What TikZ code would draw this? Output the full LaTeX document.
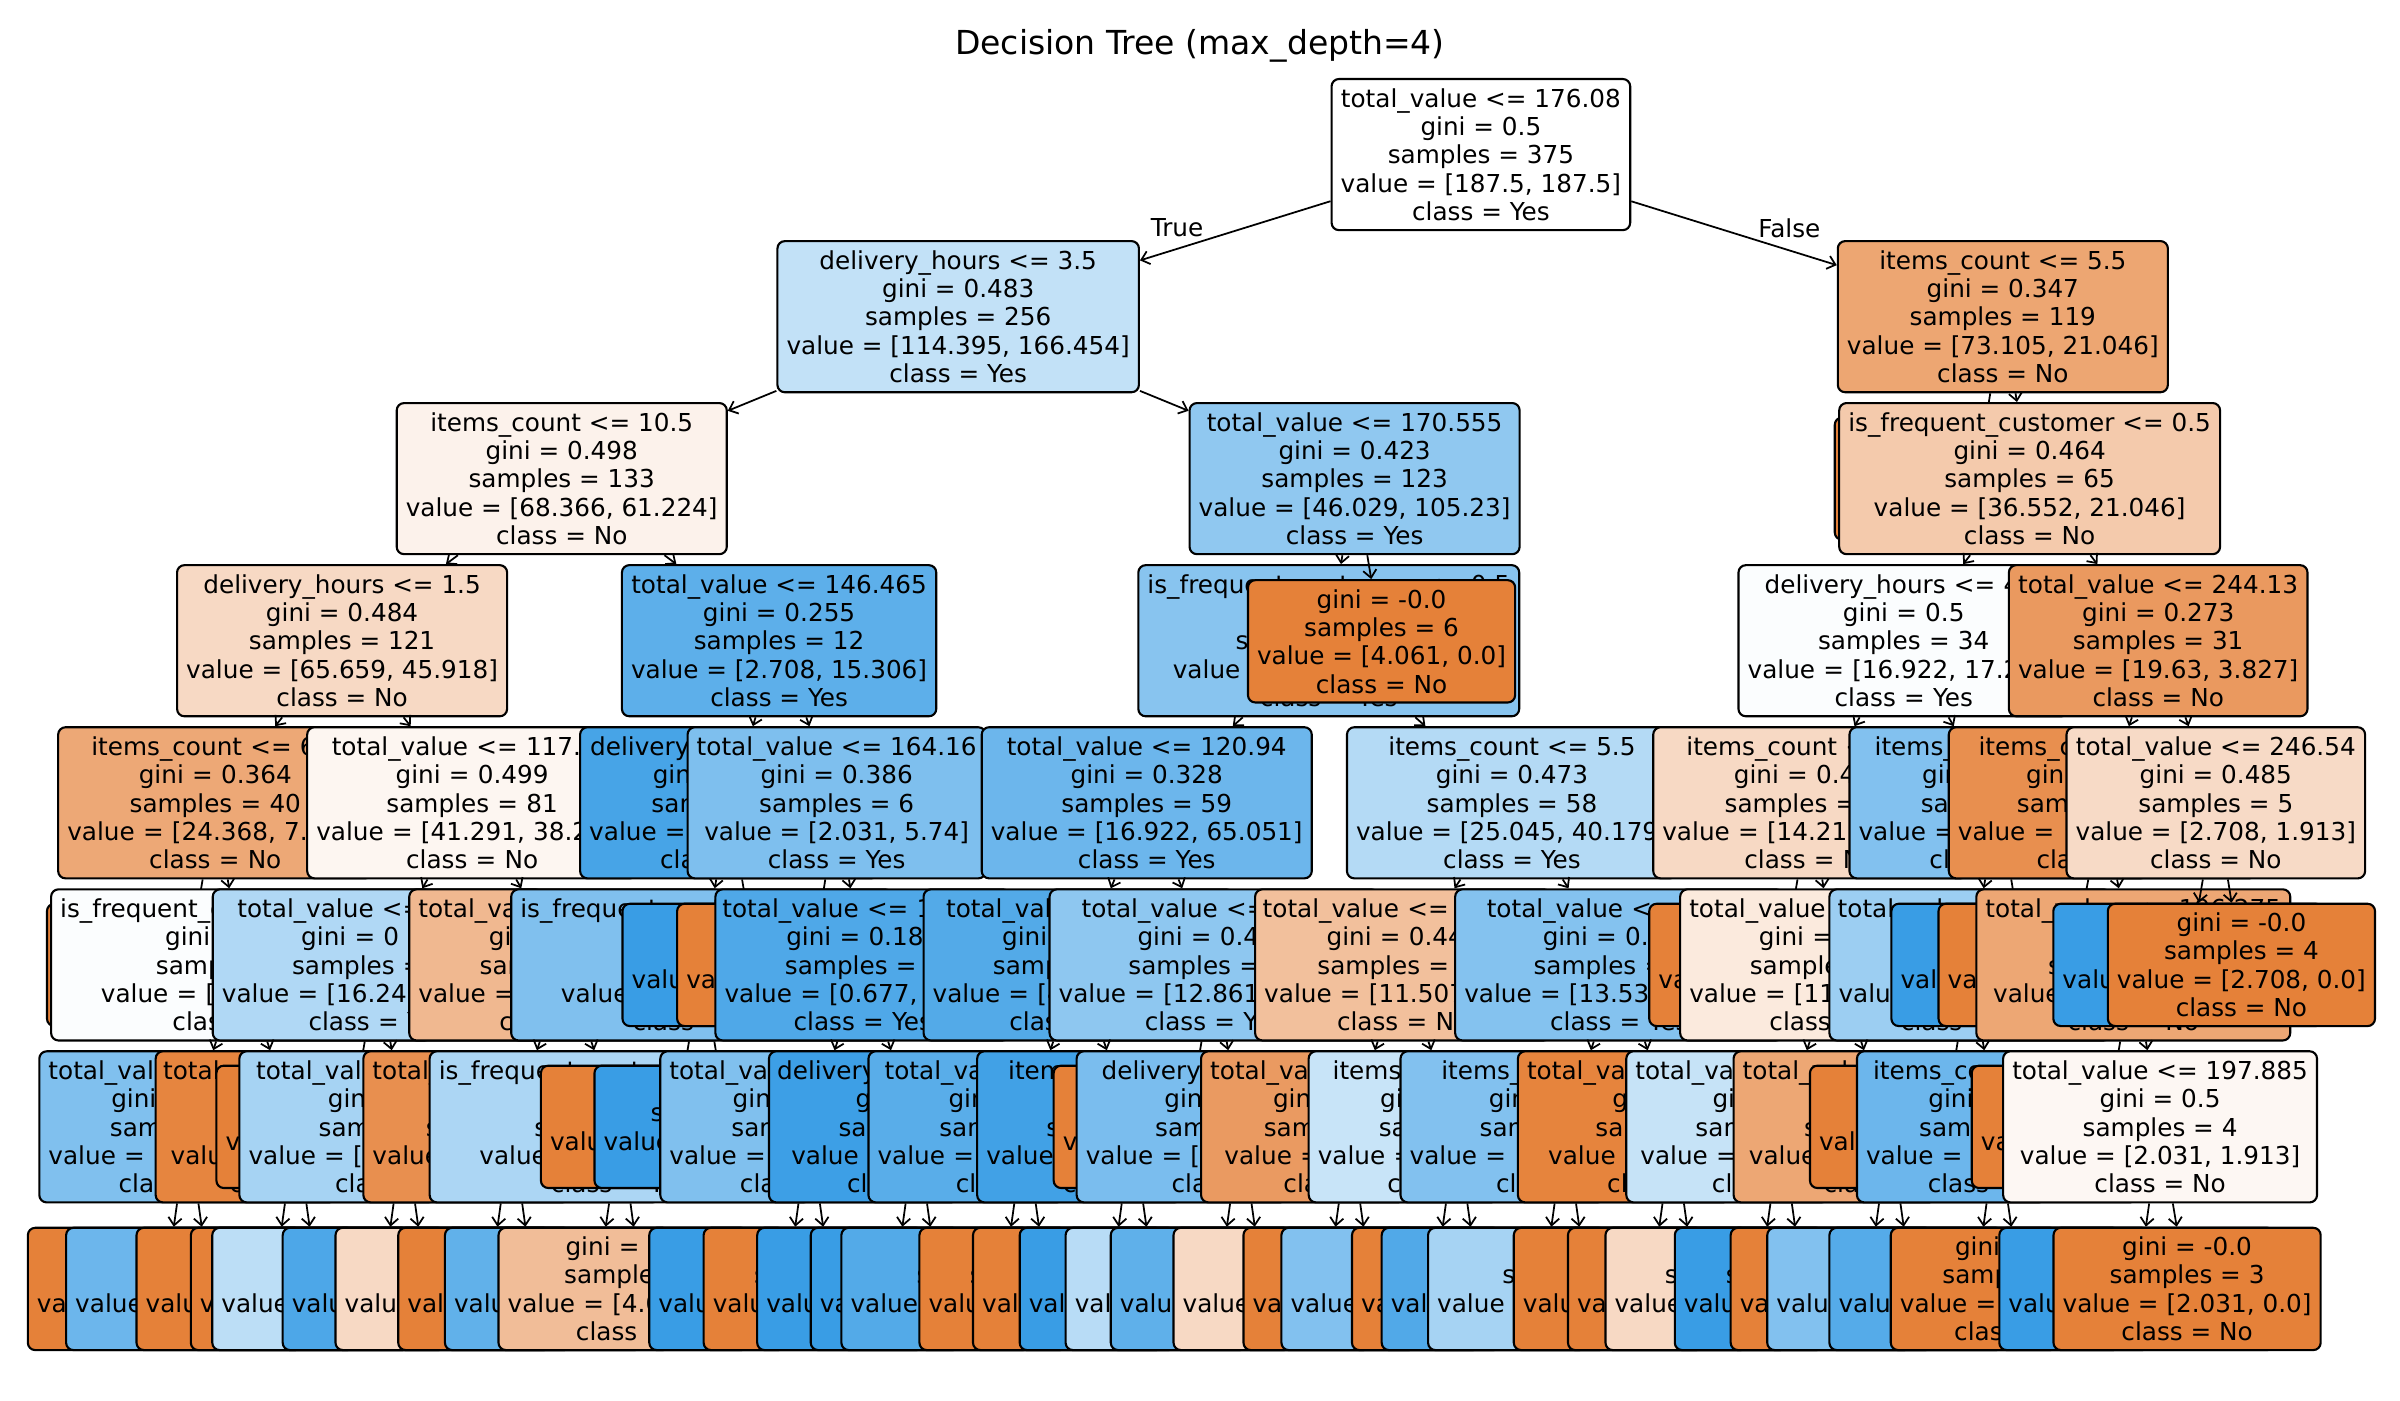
\documentclass[tikz,border=0pt]{standalone}
\usepackage{fontspec}
\setmainfont{DejaVu Sans}
\usetikzlibrary{arrows.meta}
\definecolor{cno}{RGB}{229,129,57}
\definecolor{cyes}{RGB}{57,157,229}
\newcommand{\hid}[1]{\phantom{#1}}
\newcommand{\lft}[1]{\makebox[\linewidth][l]{#1}}
\newcommand{\cl}[1]{\makebox[\linewidth]{#1}}
\newcommand{\lno}{gini = \hid{0.0}\\samples = \hid{3}\\\lft{value = [}\\class = No}
\newcommand{\lyes}{gini = \hid{0.0}\\samples = \hid{3}\\\lft{value = [}\\class = Yes}
\newcommand{\lmix}[2]{gini = \hid{0.0}\\samples = \hid{#1}\\\lft{value = [}\\class = #2}
\tikzset{
  tn/.style={draw=black, line width=0.6pt, rounded corners=2.1pt, align=center,
    inner xsep=2.6pt, inner ysep=0.5pt, minimum height=43pt,
    font=\fontsize{7.03}{8.06}\selectfont},
  lf/.style={tn, minimum height=34.8pt},
  tw/.code={\pgfmathsetlengthmacro\twlen{(#1-12)*0.4355pt}%
    \edef\twset{\noexpand\tikzset{text width=\twlen}}\twset},
  arr/.style={-{Straight Barb[length=2.2pt,width=3.8pt]}, line width=0.5pt},
  lbl/.style={font=\fontsize{7.03}{8.06}\selectfont, inner sep=0pt},
}
\begin{document}
\begin{tikzpicture}[x=0.4355pt, y=-0.4355pt]
\useasboundingbox (0,0) rectangle (1568,914.67);
\node[font=\fontsize{9.4}{11}\selectfont] (ttl) at (784,30) {Decision Tree (max\_depth=4)};
% depth 0-1
\node[tn, fill=white] (n0) at (967.5,101) {total\_value <= 176.08\\gini = 0.5\\samples = 375\\value = [187.5, 187.5]\\class = Yes};
\node[tn, fill=cyes!31] (n1a) at (626,206.9) {delivery\_hours <= 3.5\\gini = 0.483\\samples = 256\\value = [114.395, 166.454]\\class = Yes};
\draw[arr] (n0) -- (n1a);
\node[tn, fill=cno!71] (n1b) at (1308.5,206.9) {items\_count <= 5.5\\gini = 0.347\\samples = 119\\value = [73.105, 21.046]\\class = No};
\draw[arr] (n0) -- (n1b);
\node[lbl] (lbt) at (769,149) {True};
\node[lbl] (lbf) at (1169,149) {False};
% depth 2
\node[tn, fill=cno!10] (n2a) at (367,312.7) {items\_count <= 10.5\\gini = 0.498\\samples = 133\\value = [68.366, 61.224]\\class = No};
\draw[arr] (n1a) -- (n2a);
\node[tn, fill=cyes!56] (n2b) at (885,312.7) {total\_value <= 170.555\\gini = 0.423\\samples = 123\\value = [46.029, 105.23]\\class = Yes};
\draw[arr] (n1a) -- (n2b);
\node[lf, tw=185, fill=cno, anchor=west] (n2c) at (1198,312.7) {\lno};
\draw[arr] (n1b) -- (n2c);
\node[tn, fill=cno!42] (n2d) at (1326,312.7) {is\_frequent\_customer <= 0.5\\gini = 0.464\\samples = 65\\value = [36.552, 21.046]\\class = No};
\draw[arr] (n1b) -- (n2d);
% depth 3
\node[tn, fill=cno!30] (n3a) at (223.5,418.6) {delivery\_hours <= 1.5\\gini = 0.484\\samples = 121\\value = [65.659, 45.918]\\class = No};
\draw[arr] (n2a) -- (n3a);
\node[tn, fill=cyes!82] (n3b) at (509,418.6) {total\_value <= 146.465\\gini = 0.255\\samples = 12\\value = [2.708, 15.306]\\class = Yes};
\draw[arr] (n2a) -- (n3b);
\node[tn, fill=cyes!60, anchor=west] (n3c) at (743,418.6) {is\_frequent\_customer <= 0.5\\gini = \hid{0.417}\\samples = \hid{117}\\value = \hid{[41.968, 105.23]}\\class = Yes};
\draw[arr] (n2b) -- (n3c);
\node[lf, fill=cno] (n3d) at (902.6,419) {gini = -0.0\\samples = 6\\value = [4.061, 0.0]\\class = No};
\draw[arr] (n2b) -- (n3d);
\node[tn, tw=216, fill=cyes!2, anchor=west] (n3e) at (1135.1,418.6) {\cl{delivery\_hours <= 4\hid{.5}}\\gini = 0.5\\samples = 34\\\lft{value = [16.922, 17.2}\\class = Yes};
\draw[arr] (n2d) -- (n3e);
\node[tn, fill=cno!81] (n3f) at (1410,418.6) {total\_value <= 244.13\\gini = 0.273\\samples = 31\\value = [19.63, 3.827]\\class = No};
\draw[arr] (n2d) -- (n3f);
% depth 4
\node[tn, tw=205.4, fill=cno!69, anchor=west] (n4a) at (37.3,524.5) {\cl{items\_count <= 6\hid{.5}}\\gini = 0.364\\samples = 40\\\lft{value = [24.368, 7.}\\class = No};
\draw[arr] (n3a) -- (n4a);
\node[tn, tw=215.6, fill=cno!7, anchor=west] (n4b) at (200,524.5) {\cl{total\_value <= 117.\hid{35}}\\gini = 0.499\\samples = 81\\\lft{value = [41.291, 38.2}\\class = No};
\draw[arr] (n3a) -- (n4b);
\node[tn, tw=195, fill=cyes!93, anchor=west] (n4c) at (378.3,524.5) {\cl{delivery\_hours <= \hid{2.5}}\\gini = \hid{0.124}\\samples = \hid{8}\\\lft{value =}\\class = Yes};
\draw[arr] (n3b) -- (n4c);
\node[tn, fill=cyes!65] (n4d) at (546.6,524.5) {total\_value <= 164.16\\gini = 0.386\\samples = 6\\value = [2.031, 5.74]\\class = Yes};
\draw[arr] (n3b) -- (n4d);
\node[tn, fill=cyes!74] (n4e) at (749.2,524.5) {total\_value <= 120.94\\gini = 0.328\\samples = 59\\value = [16.922, 65.051]\\class = Yes};
\draw[arr] (n3c) -- (n4e);
\node[tn, fill=cyes!38, anchor=west] (n4f) at (879.3,524.5) {items\_count <= 5.5\\gini = 0.473\\samples = 58\\value = [25.045, 40.179]\\class = Yes};
\draw[arr] (n3c) -- (n4f);
\node[tn, tw=205.4, fill=cno!30, anchor=west] (n4g) at (1079.4,524.5) {\cl{items\_count <= \hid{3.5}}\\gini = 0.4\hid{45}\\samples = \hid{29}\\\lft{value = [14.21}\\class = No};
\draw[arr] (n3e) -- (n4g);
\node[tn, tw=195, fill=cyes!63, anchor=west] (n4h) at (1207.6,524.5) {\cl{items\_count <= \hid{2.5}}\\gini = \hid{0.386}\\samples = \hid{5}\\\lft{value =}\\class = Yes};
\draw[arr] (n3e) -- (n4h);
\node[tn, tw=201, fill=cno!89, anchor=west] (n4i) at (1272.5,524.5) {\cl{items\_count <= \hid{6.5}}\\gini = \hid{0.184}\\samples = \hid{26}\\\lft{value =}\\class = No};
\draw[arr] (n3f) -- (n4i);
\node[tn, fill=cno!29, anchor=west] (n4j) at (1349.4,524.5) {total\_value <= 246.54\\gini = 0.485\\samples = 5\\value = [2.708, 1.913]\\class = No};
\draw[arr] (n3f) -- (n4j);
% depth 5
\node[lf, tw=185, fill=cno, anchor=west] (n5a) at (30,630.4) {\lno};
\draw[arr] (n4a) -- (n5a);
\node[tn, tw=249, fill=cyes!2, anchor=west] (n5b) at (32.7,630.4) {\lft{is\_frequent\_customer <= \hid{0.5}}\\gini = \hid{0.497}\\samples = \hid{14}\\value = [\hid{6.769, 7.653]}\\class = Yes};
\draw[arr] (n4a) -- (n5b);
\node[tn, tw=215.6, fill=cyes!40, anchor=west] (n5c) at (138.3,630.4) {\cl{total\_value <= \hid{133.75}}\\gini = 0\hid{.478}\\samples = \hid{41}\\\lft{value = [16.24}\\class = Yes};
\draw[arr] (n4b) -- (n5c);
\node[tn, tw=204, fill=cno!56, anchor=west] (n5d) at (266.7,630.4) {\lft{total\_value <= \hid{128.325}}\\gini = \hid{0.446}\\samples = \hid{40}\\\lft{value =}\\class = No};
\draw[arr] (n4b) -- (n5d);
\node[tn, tw=249, fill=cyes!64, anchor=west] (n5e) at (333.3,630.4) {\lft{is\_frequent\_customer <= \hid{0.5}}\\gini = \hid{0.386}\\samples = \hid{4}\\value = \hid{[0.677, 1.913]}\\class = Yes};
\draw[arr] (n4c) -- (n5e);
\node[lf, tw=175, fill=cyes, anchor=west] (n5f) at (406,630.4) {\lyes};
\draw[arr] (n4c) -- (n5f);
\node[lf, tw=177, fill=cno, anchor=west] (n5g) at (441.7,630.4) {\lno};
\draw[arr] (n4d) -- (n5g);
\node[tn, tw=192.6, fill=cyes!89, anchor=west] (n5h) at (466.7,630.4) {\cl{total\_value <= 1\hid{55.82}}\\gini = 0.18\hid{9}\\samples = \hid{4}\\\lft{value = [0.677,}\\class = Yes};
\draw[arr] (n4d) -- (n5h);
\node[tn, tw=202.6, fill=cyes!87, anchor=west] (n5i) at (602.7,630.4) {\cl{total\_value <= \hid{139.4}}\\gini = \hid{0.256}\\samples = \hid{16}\\\lft{value = [4}\\class = Yes};
\draw[arr] (n4e) -- (n5i);
\node[tn, tw=215, fill=cyes!57, anchor=west] (n5j) at (685,630.4) {\cl{total\_value <= \hid{163.8}}\\gini = 0.4\hid{46}\\samples = \hid{43}\\\lft{value = [12.861}\\class = Yes};
\draw[arr] (n4e) -- (n5j);
\node[tn, tw=193.4, fill=cno!50, anchor=west] (n5k) at (819.3,630.4) {\cl{total\_value <= \hid{160.35}}\\gini = 0.44\hid{9}\\samples = \hid{19}\\\lft{value = [11.507}\\class = No};
\draw[arr] (n4f) -- (n5k);
\node[tn, tw=214.5, fill=cyes!62, anchor=west] (n5l) at (950,630.4) {\cl{total\_value <= \hid{139.8}}\\gini = 0.\hid{412}\\samples = \hid{39}\\\lft{value = [13.53}\\class = Yes};
\draw[arr] (n4f) -- (n5l);
\node[lf, tw=175, fill=cno, anchor=west] (n5m) at (1076.8,630.4) {\lno};
\draw[arr] (n4g) -- (n5m);
\node[tn, tw=203, fill=cno!17, anchor=west] (n5n) at (1097,630.4) {\lft{total\_value <= \hid{147.885}}\\gini = \hid{0.496}\\samples = \hid{26}\\\lft{value = [11}\\class = No};
\draw[arr] (n4g) -- (n5n);
\node[tn, tw=184, fill=cyes!50, anchor=west] (n5o) at (1194.5,630.4) {\cl{total\_value <= \hid{140.5}}\\gini = \hid{0.39}\\samples = \hid{6}\\\lft{value =}\\class = Yes};
\draw[arr] (n4h) -- (n5o);
\node[lf, tw=175, fill=cyes, anchor=west] (n5p) at (1235,630.4) {\lyes};
\draw[arr] (n4h) -- (n5p);
\node[lf, tw=175, fill=cno, anchor=west] (n5q) at (1265.8,630.4) {\lno};
\draw[arr] (n4i) -- (n5q);
\node[tn, fill=cno!70, anchor=west] (n5r) at (1290.5,630.4) {total\_value <= 196.275\\gini = \hid{0.42}\\samples = \hid{10}\\value = \hid{[8.799, 1.913]}\\class = No};
\draw[arr] (n4i) -- (n5r);
\node[lf, tw=176.5, fill=cyes, anchor=west] (n5s) at (1340.8,630.4) {\lyes};
\draw[arr] (n4j) -- (n5s);
\node[lf, fill=cno, anchor=west] (n5t) at (1376.4,630.4) {gini = -0.0\\samples = 4\\value = [2.708, 0.0]\\class = No};
\draw[arr] (n4j) -- (n5t);
% depth 6
\node[tn, tw=194, fill=cyes!64, anchor=west] (n6a) at (25,736.2) {\lft{total\_value <= \hid{118.55}}\\gini = \hid{0.478}\\samples = \hid{9}\\\lft{value = [}\\class = Yes};
\draw[arr] (n5b) -- (n6a);
\node[tn, tw=183, fill=cno!97, anchor=west] (n6b) at (101,736.2) {\cl{total\_value <= \hid{112.8}}\\gini = \hid{0.0}\\samples = \hid{3}\\value = \hid{[3.385, 0.0]}\\class = No};
\draw[arr] (n5b) -- (n6b);
\node[lf, tw=175, fill=cno, anchor=west] (n6c) at (140.7,736.2) {\lno};
\draw[arr] (n5c) -- (n6c);
\node[tn, tw=215.6, fill=cyes!45, anchor=west] (n6d) at (155.7,736.2) {\cl{total\_value <= \hid{125.925}}\\gini = \hid{0.446}\\samples = \hid{32}\\\lft{value = [}\\class = Yes};
\draw[arr] (n5c) -- (n6d);
\node[tn, tw=193.6, fill=cno!89, anchor=west] (n6e) at (236.7,736.2) {\lft{total\_value <= \hid{123.45}}\\gini = \hid{0.18}\\samples = \hid{28}\\\lft{value =}\\class = No};
\draw[arr] (n5d) -- (n6e);
\node[tn, tw=249, fill=cyes!42, anchor=west] (n6f) at (280,736.2) {\lft{is\_frequent\_customer <= \hid{0.5}}\\gini = \hid{0.5}\\samples = \hid{12}\\value = \hid{[1.354, 9.566]}\\class = Yes};
\draw[arr] (n5d) -- (n6f);
\node[lf, tw=175, fill=cno, anchor=west] (n6g) at (352.7,736.2) {\lno};
\draw[arr] (n5e) -- (n6g);
\node[lf, tw=175, fill=cyes, anchor=west] (n6h) at (387.7,736.2) {\lyes};
\draw[arr] (n5e) -- (n6h);
\node[tn, tw=194.6, fill=cyes!64, anchor=west] (n6i) at (430.7,736.2) {\lft{total\_value <= \hid{140.48}}\\gini = \hid{0.361}\\samples = \hid{7}\\\lft{value =}\\class = Yes};
\draw[arr] (n5h) -- (n6i);
\node[tn, tw=192.6, fill=cyes!98, anchor=west] (n6j) at (501.7,736.2) {\cl{delivery\_hours <= \hid{2.5}}\\gini = \hid{0.0}\\samples = \hid{3}\\value = \hid{[0.0, 1.913]}\\class = Yes};
\draw[arr] (n5h) -- (n6j);
\node[tn, tw=204.6, fill=cyes!84, anchor=west] (n6k) at (566.7,736.2) {\cl{total\_value <= \hid{137.82}}\\gini = \hid{0.307}\\samples = \hid{10}\\\lft{value =}\\class = Yes};
\draw[arr] (n5i) -- (n6k);
\node[tn, tw=202.6, fill=cyes!96, anchor=west] (n6l) at (637.7,736.2) {\cl{items\_count <= \hid{4.5}}\\gini = \hid{0.1}\\samples = \hid{16}\\\lft{value}\\class = Yes};
\draw[arr] (n5i) -- (n6l);
\node[lf, tw=175, fill=cno, anchor=west] (n6m) at (687.7,736.2) {\lno};
\draw[arr] (n5j) -- (n6m);
\node[tn, tw=214.6, fill=cyes!67, anchor=west] (n6n) at (702.7,736.2) {\cl{delivery\_hours <= \hid{2.5}}\\gini = \hid{0.421}\\samples = \hid{40}\\\lft{value = [}\\class = Yes};
\draw[arr] (n5j) -- (n6n);
\node[tn, tw=194, fill=cno!80, anchor=west] (n6o) at (784,736.2) {\lft{total\_value <= \hid{158.97}}\\gini = \hid{0.321}\\samples = \hid{17}\\value = \hid{[8.123, 0.0]}\\class = No};
\draw[arr] (n5k) -- (n6o);
\node[tn, tw=193.4, fill=cyes!28, anchor=west] (n6p) at (854.3,736.2) {\cl{items\_count <= \hid{4.5}}\\gini = \hid{0.488}\\samples = \hid{8}\\\lft{value =}\\class = Yes};
\draw[arr] (n5k) -- (n6p);
\node[tn, tw=215.4, fill=cyes!63, anchor=west] (n6q) at (914.3,736.2) {\cl{items\_count <= \hid{3.5}}\\gini = \hid{0.381}\\samples = \hid{24}\\\lft{value =}\\class = Yes};
\draw[arr] (n5l) -- (n6q);
\node[tn, tw=203, fill=cno!98, anchor=west] (n6r) at (991,736.2) {\lft{total\_value <= \hid{136.325}}\\gini = \hid{0.0}\\samples = \hid{4}\\value = \hid{[2.708, 0.0]}\\class = No};
\draw[arr] (n5l) -- (n6r);
\node[tn, tw=202.4, fill=cyes!29, anchor=west] (n6s) at (1061.8,736.2) {\lft{total\_value <= \hid{147.355}}\\gini = \hid{0.49}\\samples = \hid{20}\\value = \hid{[8.798, 7.653]}\\class = Yes};
\draw[arr] (n5n) -- (n6s);
\node[tn, tw=204, fill=cno!70, anchor=west] (n6t) at (1131.9,736.2) {\lft{total\_value <= \hid{156.385}}\\gini = \hid{0.3}\\samples = \hid{10}\\value = \hid{[2.708, 1.913]}\\class = No};
\draw[arr] (n5n) -- (n6t);
\node[lf, tw=175, fill=cno, anchor=west] (n6u) at (1181.8,736.2) {\lno};
\draw[arr] (n5o) -- (n6u);
\node[tn, tw=183, fill=cyes!74, anchor=west] (n6v) at (1212.5,736.2) {\cl{items\_count <= \hid{3.5}}\\gini = \hid{0.37}\\samples = \hid{5}\\\lft{value =}\\class = Yes};
\draw[arr] (n5o) -- (n6v);
\node[lf, tw=175, fill=cno, anchor=west] (n6w) at (1287.5,736.2) {\lno};
\draw[arr] (n5r) -- (n6w);
\node[tn, fill=cno!6, anchor=west] (n6x) at (1308,736.2) {total\_value <= 197.885\\gini = 0.5\\samples = 4\\value = [2.031, 1.913]\\class = No};
\draw[arr] (n5r) -- (n6x);
% depth 7 (leaves)
\node[lf, tw=179.4, fill=cno, anchor=west] (k1) at (17.5,842.1) {\lno};
\draw[arr] (n6a) -- (k1);
\node[lf, tw=188.6, fill=cyes!74, anchor=west] (k2) at (42.5,842.1) {\lmix{}{Yes}};
\draw[arr] (n6a) -- (k2);
\node[lf, tw=178.4, fill=cno, anchor=west] (k3) at (88.5,842.1) {\lno};
\draw[arr] (n6b) -- (k3);
\node[lf, tw=166.6, fill=cno, anchor=west] (k4) at (124,842.1) {\lno};
\draw[arr] (n6b) -- (k4);
\node[lf, tw=221.4, fill=cyes!34, anchor=west] (k5) at (138,842.1) {\lmix{21}{Yes}};
\draw[arr] (n6d) -- (k5);
\node[lf, tw=188.6, fill=cyes!90, anchor=west] (k6) at (184,842.1) {\lmix{11}{Yes}};
\draw[arr] (n6d) -- (k6);
\node[lf, tw=200.4, fill=cno!30, anchor=west] (k7) at (218.5,842.1) {\lmix{13}{No}};
\draw[arr] (n6e) -- (k7);
\node[lf, tw=177.6, fill=cno, anchor=west] (k8) at (259.5,842.1) {\lno};
\draw[arr] (n6e) -- (k8);
\node[lf, tw=198.4, fill=cyes!80, anchor=west] (k9) at (290,842.1) {\lmix{8}{Yes}};
\draw[arr] (n6f) -- (k9);
\node[lf, tw=187.6, fill=cno!52, anchor=west] (k10) at (325,842.1) {gini = \hid{0.444}\\samples = \hid{9}\\\lft{value = [4.0}\\class = No};
\draw[arr] (n6f) -- (k10);
\node[lf, tw=179.4, fill=cyes, anchor=west] (k11) at (423.5,842.1) {\lyes};
\draw[arr] (n6i) -- (k11);
\node[lf, tw=167.6, fill=cno, anchor=west] (k12) at (459,842.1) {\lno};
\draw[arr] (n6i) -- (k12);
\node[lf, tw=178.4, fill=cyes, anchor=west] (k13) at (494,842.1) {\lyes};
\draw[arr] (n6j) -- (k13);
\node[lf, tw=167.6, fill=cyes, anchor=west] (k14) at (529,842.1) {\lyes};
\draw[arr] (n6j) -- (k14);
\node[lf, tw=210.4, fill=cyes!87, anchor=west] (k15) at (549,842.1) {\lmix{12}{Yes}};
\draw[arr] (n6k) -- (k15);
\node[lf, tw=167.6, fill=cno, anchor=west] (k16) at (600,842.1) {\lno};
\draw[arr] (n6k) -- (k16);
\node[lf, tw=179.2, fill=cno, anchor=west] (k17) at (635,842.1) {\lno};
\draw[arr] (n6l) -- (k17);
\node[lf, tw=177.4, fill=cyes, anchor=west] (k18) at (665.5,842.1) {\lyes};
\draw[arr] (n6l) -- (k18);
\node[lf, tw=199.4, fill=cyes!36, anchor=west] (k19) at (695.5,842.1) {\lmix{14}{Yes}};
\draw[arr] (n6n) -- (k19);
\node[lf, tw=199.6, fill=cyes!81, anchor=west] (k20) at (725,842.1) {\lmix{26}{Yes}};
\draw[arr] (n6n) -- (k20);
\node[lf, tw=200.4, fill=cno!30, anchor=west] (k21) at (766,842.1) {\lmix{3}{No}};
\draw[arr] (n6o) -- (k21);
\node[lf, tw=168.2, fill=cno, anchor=west] (k22) at (811.7,842.1) {\lno};
\draw[arr] (n6o) -- (k22);
\node[lf, tw=199.4, fill=cyes!63, anchor=west] (k23) at (836.5,842.1) {\lmix{6}{Yes}};
\draw[arr] (n6p) -- (k23);
\node[lf, tw=166.4, fill=cno, anchor=west] (k24) at (882.6,842.1) {\lno};
\draw[arr] (n6p) -- (k24);
\node[lf, tw=210.4, fill=cyes!88, anchor=west] (k25) at (902,842.1) {\lmix{17}{Yes}};
\draw[arr] (n6q) -- (k25);
\node[lf, tw=209, fill=cyes!45, anchor=west] (k26) at (932.3,842.1) {\lmix{12}{Yes}};
\draw[arr] (n6q) -- (k26);
\node[lf, tw=178.8, fill=cno, anchor=west] (k27) at (988.3,842.1) {\lno};
\draw[arr] (n6r) -- (k27);
\node[lf, tw=167.2, fill=cno, anchor=west] (k28) at (1023.7,842.1) {\lno};
\draw[arr] (n6r) -- (k28);
\node[lf, tw=200, fill=cno!30, anchor=west] (k29) at (1048.2,842.1) {\lmix{123}{No}};
\draw[arr] (n6s) -- (k29);
\node[lf, tw=168.6, fill=cyes, anchor=west] (k30) at (1093.5,842.1) {\lyes};
\draw[arr] (n6s) -- (k30);
\node[lf, tw=178.4, fill=cno, anchor=west] (k31) at (1130,842.1) {\lno};
\draw[arr] (n6t) -- (k31);
\node[lf, tw=189.8, fill=cyes!63, anchor=west] (k32) at (1153.9,842.1) {\lmix{5}{Yes}};
\draw[arr] (n6t) -- (k32);
\node[lf, tw=190.2, fill=cyes!86, anchor=west] (k33) at (1194.5,842.1) {\lmix{4}{Yes}};
\draw[arr] (n6v) -- (k33);
\node[lf, tw=169.2, fill=cno, anchor=west] (k34) at (1234.6,842.1) {gini = \hid{-0.0}\\samples = \hid{4}\\\lft{value =}\\class = No};
\draw[arr] (n6v) -- (k34);
\node[lf, tw=180, fill=cyes, anchor=west] (k35) at (1305.5,842.1) {\lyes};
\draw[arr] (n6x) -- (k35);
\node[lf, fill=cno, anchor=west] (k36) at (1340.9,842.1) {gini = -0.0\\samples = 3\\value = [2.031, 0.0]\\class = No};
\draw[arr] (n6x) -- (k36);
\end{tikzpicture}
\end{document}
